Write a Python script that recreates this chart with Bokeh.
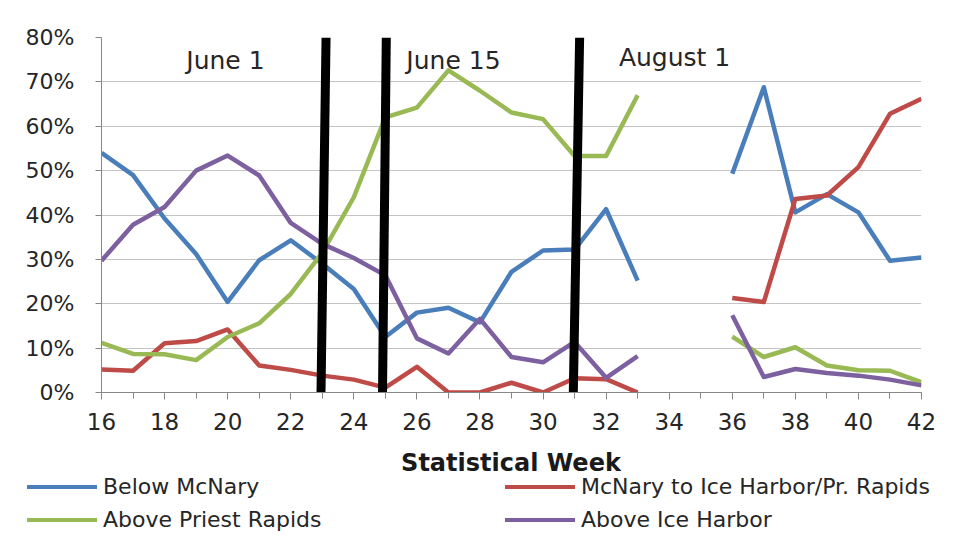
import numpy as np
from bokeh.plotting import figure
from bokeh.layouts import column
from bokeh.models import (ColumnDataSource, Range1d, FixedTicker, NumeralTickFormatter, Div)
from bokeh.core.properties import value
from bokeh.embed import file_html
from bokeh.resources import INLINE

weeks = list(range(16, 43))
x_ticks = list(range(16, 43, 2))
y_ticks = [0.0, 0.1, 0.2, 0.3, 0.4, 0.5, 0.6, 0.7, 0.8]

# None = no data (weeks 34 and 35)
below_mcnary = [54.0, 49.0, 39.2, 31.2, 20.4, 29.8, 34.3, 29.0, 23.3, 12.5, 18.0, 19.1, 15.8,
                27.2, 32.0, 32.2, 41.3, 25.2, None, None, 49.3, 68.8, 40.6, 44.7, 40.6, 29.7, 30.4]
mcnary_to_ice = [5.2, 4.9, 11.1, 11.6, 14.2, 6.1, 5.1, 3.8, 2.9, 1.1, 5.8, 0.0, 0.0,
                 2.2, 0.0, 3.2, 3.0, 0.0, None, None, 21.3, 20.4, 43.6, 44.4, 50.8, 62.8, 66.2]
above_priest = [11.2, 8.7, 8.6, 7.3, 12.5, 15.6, 22.2, 31.5, 44.0, 62.0, 64.2, 72.6, 68.0,
                63.1, 61.6, 53.3, 53.3, 67.0, None, None, 12.6, 8.0, 10.2, 6.1, 5.0, 4.9, 2.3]
above_ice = [29.7, 37.8, 41.8, 50.0, 53.4, 48.9, 38.2, 33.5, 30.3, 26.4, 12.2, 8.8, 16.6,
             8.0, 6.8, 11.4, 3.3, 8.2, None, None, 17.4, 3.5, 5.3, 4.4, 3.8, 2.9, 1.6]

series_names = ["Below McNary", "McNary to Ice Harbor/Pr. Rapids", "Above Priest Rapids",
                "Above Ice Harbor"]
series_colors = ["#4A7EBB", "#BE4B48", "#98B954", "#7D60A0"]

# hand-drawn date marker bars (week at top, week at bottom)
marker_top_x = [23.12, 25.03, 31.16]
marker_bottom_x = [22.96, 24.91, 30.96]
marker_labels = ["June 1", "June 15", "August 1"]
marker_label_x = [19.93, 27.16, 34.17]
marker_label_y = [0.748, 0.748, 0.755]

x_title = "Statistical Week"


def frac(vals):
    return np.array([np.nan if v is None else v / 100.0 for v in vals])


W = 956
TOP_H = 440
BOT_H = 539 - TOP_H

p = figure(width=W, height=TOP_H, output_backend="svg", toolbar_location=None,
           x_range=Range1d(16, 42), y_range=Range1d(0, 0.80),
           min_border_left=101, min_border_right=35, min_border_top=37,
           min_border_bottom=TOP_H - 392)
p.background_fill_color = "white"
p.border_fill_color = "white"
p.outline_line_color = None

for vals, color in zip([below_mcnary, mcnary_to_ice, above_priest, above_ice], series_colors):
    src = ColumnDataSource(dict(x=weeks, y=frac(vals)))
    p.line("x", "y", source=src, line_color=color, line_width=4.5, line_join="round")

p.segment(x0=marker_top_x, y0=[0.80] * 3, x1=marker_bottom_x, y1=[0.0] * 3,
          line_color="black", line_width=9)

p.text(x=marker_label_x, y=marker_label_y, text=marker_labels,
       text_font=value("DejaVu Sans"), text_font_size="25px", text_color="#262626",
       text_align="center", text_baseline="middle")

# axes
p.xaxis.ticker = FixedTicker(ticks=x_ticks, minor_ticks=weeks)
p.yaxis.ticker = FixedTicker(ticks=y_ticks, minor_ticks=[])
p.yaxis.formatter = NumeralTickFormatter(format="0%")
for ax in (p.xaxis, p.yaxis):
    ax.axis_line_color = "#868686"
    ax.major_tick_line_color = "#868686"
    ax.minor_tick_line_color = "#868686"
    ax.major_tick_in = 0
    ax.minor_tick_in = 0
    ax.major_label_text_font = "DejaVu Sans"
    ax.major_label_text_color = "#262626"
p.xaxis.major_tick_out = 7
p.xaxis.minor_tick_out = 6
p.yaxis.major_tick_out = 6
p.xaxis.major_label_text_font_size = "23px"
p.yaxis.major_label_text_font_size = "22px"
p.xaxis.major_label_standoff = 13
p.yaxis.major_label_standoff = 21

p.xgrid.grid_line_color = None
p.ygrid.grid_line_color = "#C4C4C4"
p.ygrid.grid_line_width = 1

# bottom strip: axis title and two-column legend (row-major order)
col_x = [27, 505]
row_y = [47, 80]
parts = ['<div style="position:relative;width:%dpx;height:%dpx;font-family:\'DejaVu Sans\';'
         'color:#262626;background:white;">' % (W, BOT_H)]
parts.append('<div style="position:absolute;left:211px;width:600px;top:9px;line-height:28px;'
             'text-align:center;font-weight:bold;font-size:24px;color:#1a1a1a;'
             'white-space:nowrap;">%s</div>' % x_title)
for i, (name, color) in enumerate(zip(series_names, series_colors)):
    cx = col_x[i % 2]
    cy = row_y[i // 2]
    parts.append('<div style="position:absolute;left:%dpx;top:%dpx;width:70px;height:4px;'
                 'background:%s;"></div>' % (cx, cy - 2, color))
    parts.append('<div style="position:absolute;left:%dpx;top:%dpx;line-height:24px;'
                 'font-size:22px;white-space:nowrap;">%s</div>' % (cx + 76, cy - 12, name))
parts.append('</div>')
bottom = Div(text="".join(parts), width=W, height=BOT_H, margin=0)

layout = column(p, bottom, spacing=0)
open("out.html", "w").write(file_html(layout, INLINE))
